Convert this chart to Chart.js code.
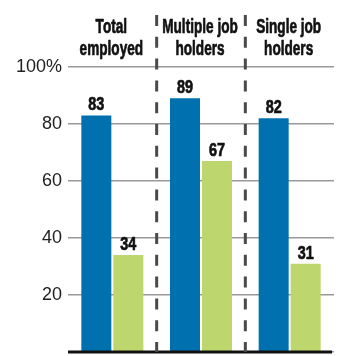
<!DOCTYPE html>
<html>
<head>
<meta charset="utf-8">
<script src="https://cdn.jsdelivr.net/npm/chart.js@4"></script>
<style>
  html, body { margin: 0; padding: 0; background: #fff; }
  #chart { display: block; }
</style>
</head>
<body>
<canvas id="chart" width="356" height="356"></canvas>
<script>
const categories = [['Total', 'employed'], ['Multiple job', 'holders'], ['Single job', 'holders']];
const firstSeries = [83, 89, 82];
const secondSeries = [34, 67, 31];
const tickLabels = { 100: '100%', 80: '80', 60: '60', 40: '40', 20: '20', 0: '' };

const BLUE = '#0071ae';
const GREEN = '#bdd66e';

// draw condensed heavy text by squeezing a bold face and stroking it a bit
function squeezed(ctx, text, x, y, size, sx) {
    ctx.save();
    ctx.translate(x, y);
    ctx.scale(sx, 1);
    ctx.font = 'bold ' + size + 'px "Liberation Sans", Arial, sans-serif';
    ctx.textAlign = 'center';
    ctx.textBaseline = 'alphabetic';
    ctx.fillStyle = '#111';
    ctx.strokeStyle = '#111';
    ctx.lineWidth = 0.7;
    ctx.lineJoin = 'round';
    ctx.fillText(text, 0, 0);
    ctx.strokeText(text, 0, 0);
    ctx.restore();
}

const overlay = {
    id: 'overlay',
    afterDatasetsDraw(chart) {
        const ctx = chart.ctx;
        const x = chart.scales.x;
        const area = chart.chartArea;

        // baseline
        ctx.save();
        ctx.strokeStyle = '#111';
        ctx.lineWidth = 3;
        ctx.beginPath();
        ctx.moveTo(area.left, area.bottom);
        ctx.lineTo(area.right - 2, area.bottom);
        ctx.stroke();

        // dashed separators between groups
        ctx.strokeStyle = '#4a4a4a';
        ctx.lineWidth = 3;
        ctx.setLineDash([11, 10.8]);
        for (let i = 0; i < categories.length - 1; i++) {
            const sx = (x.getPixelForValue(i) + x.getPixelForValue(i + 1)) / 2;
            ctx.beginPath();
            ctx.moveTo(sx, 15);
            ctx.lineTo(sx, area.bottom);
            ctx.stroke();
        }
        ctx.restore();

        // group headers
        categories.forEach((lines, i) => {
            const cx = x.getPixelForValue(i) - 1;
            squeezed(ctx, lines[0], cx, 33, 20, 0.68);
            squeezed(ctx, lines[1], cx, 55, 20, 0.68);
        });

        // value labels
        chart.data.datasets.forEach((ds, di) => {
            chart.getDatasetMeta(di).data.forEach((bar, i) => {
                squeezed(ctx, String(ds.data[i]), bar.x, bar.y - 5, 18, 0.8);
            });
        });
    }
};

new Chart(document.getElementById('chart'), {
    type: 'bar',
    data: {
        labels: categories.map(c => c.join(' ')),
        datasets: [
            { data: firstSeries, backgroundColor: BLUE, categoryPercentage: 0.722, barPercentage: 0.9375 },
            { data: secondSeries, backgroundColor: GREEN, categoryPercentage: 0.722, barPercentage: 0.9375 }
        ]
    },
    options: {
        responsive: false,
        animation: false,
        layout: { padding: { top: 67, right: 22, bottom: 4, left: 0 } },
        plugins: { legend: { display: false }, tooltip: { enabled: false } },
        scales: {
            x: { display: false },
            y: {
                min: 0,
                max: 100,
                border: { display: false },
                grid: { color: '#999', lineWidth: 1.5, drawTicks: false },
                ticks: {
                    stepSize: 20,
                    padding: 6,
                    color: '#222',
                    font: { family: '"Liberation Sans", Arial, sans-serif', size: 18 },
                    callback: v => tickLabels[v]
                },
                afterFit(scale) {
                    scale.width = 68;
                    scale.paddingTop = 0;
                    scale.paddingBottom = 0;
                }
            }
        }
    },
    plugins: [overlay]
});
</script>
</body>
</html>
